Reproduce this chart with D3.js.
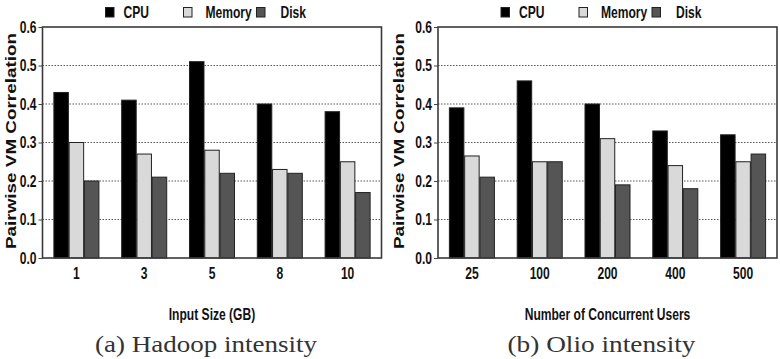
<!DOCTYPE html>
<html>
<head>
<meta charset="utf-8">
<script src="https://cdn.jsdelivr.net/npm/d3@7"></script>
<style>
  body { margin: 0; background: #fff; }
  svg { display: block; }
  .narrow { font-family: "Liberation Sans Narrow", "Arial Narrow", "Liberation Sans", sans-serif; font-weight: bold; }
</style>
</head>
<body>
<div id="chart"></div>
<script>
// values
var seriesNames = ["CPU", "Memory", "Disk"];

var hadoopSizes = ["1", "3", "5", "8", "10"];
var hadoopCpu = [0.43, 0.41, 0.51, 0.40, 0.38];
var hadoopMemory = [0.30, 0.27, 0.28, 0.23, 0.25];
var hadoopDisk = [0.20, 0.21, 0.22, 0.22, 0.17];

var olioUsers = ["25", "100", "200", "400", "500"];
var olioCpu = [0.39, 0.46, 0.40, 0.33, 0.32];
var olioMemory = [0.265, 0.25, 0.31, 0.24, 0.25];
var olioDisk = [0.21, 0.25, 0.19, 0.18, 0.27];

var yTicks = [0, 0.1, 0.2, 0.3, 0.4, 0.5, 0.6];

var panels = [
  { cats: hadoopSizes, values: [hadoopCpu, hadoopMemory, hadoopDisk],
    xTitle: "Input Size (GB)", caption: "(a) Hadoop intensity",
    left: 42.5, titleX: 16, capLen: 222 },
  { cats: olioUsers, values: [olioCpu, olioMemory, olioDisk],
    xTitle: "Number of Concurrent Users", caption: "(b) Olio intensity",
    left: 438, titleX: 404, capLen: 188 }
];

var colors = { "CPU": "#000000", "Memory": "#d9d9d9", "Disk": "#555555" };

function drawChart() {
  var W = 780, H = 359;
  var plotW = 339, plotTop = 27, plotBottom = 258;
  var fontPx = "17px";

  var svg = d3.select("#chart").append("svg")
    .attr("width", W)
    .attr("height", H);

  var y = d3.scaleLinear().domain([0, 0.6]).range([plotBottom, plotTop]);

  panels.forEach(function(p) {
    var g = svg.append("g");

    var x0 = d3.scaleBand()
      .domain(p.cats)
      .range([p.left, p.left + plotW])
      .paddingInner(0.336)
      .paddingOuter(0.168);

    var x1 = d3.scaleBand()
      .domain(seriesNames)
      .range([0, x0.bandwidth()])
      .paddingInner(0.05);

    // dotted grid lines
    g.selectAll(".grid")
      .data(yTicks.filter(function(t) { return t > 0 && t < 0.6; }))
      .join("line")
        .attr("x1", p.left)
        .attr("x2", p.left + plotW)
        .attr("y1", function(d) { return y(d); })
        .attr("y2", function(d) { return y(d); })
        .style("stroke", "#555")
        .style("stroke-width", 1)
        .style("stroke-dasharray", "1.5,1.5");

    // bars
    var rows = [];
    p.cats.forEach(function(c, i) {
      seriesNames.forEach(function(s, j) {
        rows.push({ cat: c, series: s, value: p.values[j][i] });
      });
    });

    g.selectAll(".bar")
      .data(rows)
      .join("rect")
        .attr("x", function(d) { return x0(d.cat) + x1(d.series); })
        .attr("y", function(d) { return y(d.value); })
        .attr("width", x1.bandwidth())
        .attr("height", function(d) { return plotBottom - y(d.value); })
        .style("fill", function(d) { return colors[d.series]; })
        .style("stroke", "#222")
        .style("stroke-width", 1);

    // frame
    g.append("rect")
      .attr("x", p.left)
      .attr("y", plotTop)
      .attr("width", plotW)
      .attr("height", plotBottom - plotTop)
      .style("fill", "none")
      .style("stroke", "#3a3a3a")
      .style("stroke-width", 1.6);

    // y axis
    var yAxis = g.append("g")
      .attr("transform", "translate(" + p.left + ",0)")
      .call(d3.axisLeft(y).tickValues(yTicks).tickFormat(d3.format(".1f")).tickSize(4).tickPadding(2));
    yAxis.select(".domain").remove();
    yAxis.selectAll("line").style("stroke", "#444");
    yAxis.selectAll("text")
      .attr("class", "narrow")
      .style("font-size", fontPx)
      .style("fill", "#111");

    // x axis labels
    var xAxis = g.append("g")
      .attr("transform", "translate(0," + plotBottom + ")")
      .call(d3.axisBottom(x0).tickSize(0).tickPadding(9));
    xAxis.select(".domain").remove();
    xAxis.selectAll("text")
      .attr("class", "narrow")
      .style("font-size", fontPx)
      .style("fill", "#111");

    // axis titles
    g.append("text")
      .attr("class", "narrow")
      .attr("x", p.left + plotW / 2)
      .attr("y", 320)
      .attr("text-anchor", "middle")
      .style("font-size", fontPx)
      .style("fill", "#111")
      .text(p.xTitle);

    g.append("text")
      .attr("transform", "translate(" + p.titleX + ",141) rotate(-90)")
      .attr("text-anchor", "middle")
      .attr("textLength", 216)
      .attr("lengthAdjust", "spacingAndGlyphs")
      .style("font-family", "'Liberation Sans', Arial, sans-serif")
      .style("font-weight", "bold")
      .style("font-size", "14px")
      .style("fill", "#111")
      .text("Pairwise VM Correlation");

    // caption
    g.append("text")
      .attr("x", p.left + plotW / 2 - 6)
      .attr("y", 352)
      .attr("text-anchor", "middle")
      .attr("textLength", p.capLen)
      .attr("lengthAdjust", "spacingAndGlyphs")
      .style("font-family", "'Liberation Serif', 'Times New Roman', serif")
      .style("font-size", "23px")
      .style("fill", "#333")
      .text(p.caption);

    // legend
    var legendOffsets = [
      { box: 0, text: 18 },
      { box: 78, text: 100 },
      { box: 151, text: 175 }
    ];
    var legend = g.selectAll(".legend")
      .data(seriesNames)
      .join("g")
        .attr("transform", "translate(" + (p.left + 63) + ",0)");

    legend.append("rect")
      .attr("x", function(d, i) { return legendOffsets[i].box; })
      .attr("y", 7.5)
      .attr("width", 8.5)
      .attr("height", 9.5)
      .style("fill", function(d) { return colors[d]; })
      .style("stroke", "#222")
      .style("stroke-width", 1);

    legend.append("text")
      .attr("class", "narrow")
      .attr("x", function(d, i) { return legendOffsets[i].text; })
      .attr("y", 18)
      .style("font-size", fontPx)
      .style("fill", "#111")
      .text(function(d) { return d; });
  });

  // no narrow face installed: squeeze the bold sans horizontally
  svg.selectAll("text.narrow").each(function() {
    var len = this.getComputedTextLength();
    d3.select(this)
      .attr("textLength", len * 0.71)
      .attr("lengthAdjust", "spacingAndGlyphs");
  });
}

drawChart();
</script>
</body>
</html>
